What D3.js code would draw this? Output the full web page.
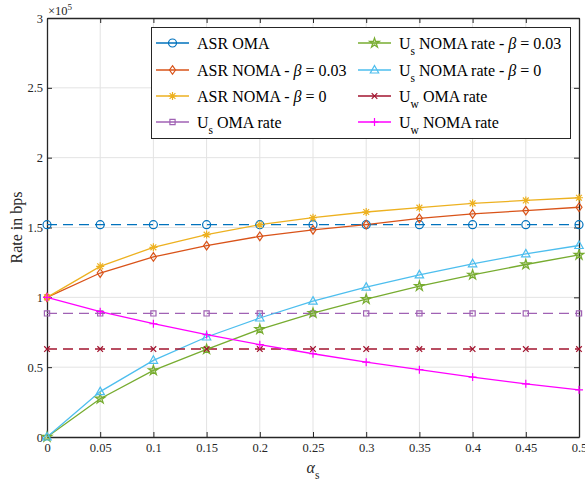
<!DOCTYPE html>
<html><head><meta charset="utf-8">
<script src="https://cdn.jsdelivr.net/npm/d3@7"></script>
<style>body{margin:0;background:#fff}svg{display:block}</style>
</head><body>
<svg id="chart" width="585" height="485"></svg>
<script>
const alphaS = [0, 0.05, 0.1, 0.15, 0.2, 0.25, 0.3, 0.35, 0.4, 0.45, 0.5];
const asrOMA = [152000, 152000, 152000, 152000, 152000, 152000, 152000, 152000, 152000, 152000, 152000];
const asrNOMA003 = [100000, 117400, 128900, 137000, 143700, 148300, 152100, 156600, 159700, 162100, 164500];
const asrNOMA0 = [100000, 122200, 135800, 144900, 152000, 157000, 161100, 164200, 167300, 169400, 171300];
const usOMA = [88500, 88500, 88500, 88500, 88500, 88500, 88500, 88500, 88500, 88500, 88500];
const usNOMA003 = [0, 27400, 47700, 62800, 77100, 88700, 98700, 108000, 116100, 123500, 130400];
const usNOMA0 = [0, 32500, 54900, 71600, 85200, 97300, 107300, 116100, 124000, 131100, 137100];
const uwOMA = [63000, 63000, 63000, 63000, 63000, 63000, 63000, 63000, 63000, 63000, 63000];
const uwNOMA = [100000, 89700, 81100, 73300, 66100, 59600, 53600, 48200, 42900, 38100, 33800];
const xTicks = [0, 0.05, 0.1, 0.15, 0.2, 0.25, 0.3, 0.35, 0.4, 0.45, 0.5];
const xTickLabels = ["0", "0.05", "0.1", "0.15", "0.2", "0.25", "0.3", "0.35", "0.4", "0.45", "0.5"];
const yTicks = [0, 50000, 100000, 150000, 200000, 250000, 300000];
const yTickLabels = ["0", "0.5", "1", "1.5", "2", "2.5", "3"];

const series = [
  {values: asrOMA, color: "#0072BD", dash: "10,6", marker: "circle", leg: [["ASR OMA"]]},
  {values: asrNOMA003, color: "#D95319", dash: null, marker: "diamond", leg: [["ASR NOMA - "], ["β", "it"], [" = 0.03"]]},
  {values: asrNOMA0, color: "#EDB120", dash: null, marker: "asterisk", leg: [["ASR NOMA - "], ["β", "it"], [" = 0"]]},
  {values: usOMA, color: "#A062B4", dash: "10,6", marker: "square", leg: [["U"], ["s", "sub"], [" OMA rate"]]},
  {values: usNOMA003, color: "#77AC30", dash: null, marker: "star", leg: [["U"], ["s", "sub"], [" NOMA rate - "], ["β", "it"], [" = 0.03"]]},
  {values: usNOMA0, color: "#4DBEEE", dash: null, marker: "triangle", leg: [["U"], ["s", "sub"], [" NOMA rate - "], ["β", "it"], [" = 0"]]},
  {values: uwOMA, color: "#A2142F", dash: "10,6", marker: "cross", leg: [["U"], ["w", "sub"], [" OMA rate"]]},
  {values: uwNOMA, color: "#FF00FF", dash: null, marker: "plus", leg: [["U"], ["w", "sub"], [" NOMA rate"]]}
];

const svg = d3.select("#chart");
const m = {left: 47, right: 579, top: 18, bottom: 437};
const x = d3.scaleLinear().domain([0, 0.5]).range([m.left, m.right]);
const y = d3.scaleLinear().domain([0, 300000]).range([m.bottom, m.top]);
const axisColor = "#262626";
const font = "'Liberation Serif', 'Times New Roman', serif";

// grid
const g = svg.append("g");
g.selectAll(".gx").data(xTicks.slice(1, -1)).enter().append("line")
  .attr("x1", d => x(d)).attr("x2", d => x(d)).attr("y1", m.top).attr("y2", m.bottom)
  .attr("stroke", "#e3e3e3").attr("stroke-width", 1);
g.selectAll(".gy").data(yTicks.slice(1, -1)).enter().append("line")
  .attr("y1", d => y(d)).attr("y2", d => y(d)).attr("x1", m.left).attr("x2", m.right)
  .attr("stroke", "#e3e3e3").attr("stroke-width", 1);

// axes
const xAxis = d3.axisBottom(x).tickValues(xTicks).tickFormat((d, i) => xTickLabels[i]).tickSizeInner(-5).tickSizeOuter(0).tickPadding(6);
const yAxis = d3.axisLeft(y).tickValues(yTicks).tickFormat((d, i) => yTickLabels[i]).tickSizeInner(-5).tickSizeOuter(0).tickPadding(4);
const xa = svg.append("g").attr("transform", `translate(0,${m.bottom})`).call(xAxis);
const ya = svg.append("g").attr("transform", `translate(${m.left},0)`).call(yAxis);
const xTop = svg.append("g").attr("transform", `translate(0,${m.top})`).call(d3.axisTop(x).tickValues(xTicks).tickFormat("").tickSizeInner(-5).tickSizeOuter(0));
const yRight = svg.append("g").attr("transform", `translate(${m.right},0)`).call(d3.axisRight(y).tickValues(yTicks).tickFormat("").tickSizeInner(-5).tickSizeOuter(0));
[xa, ya, xTop, yRight].forEach(a => {
  a.select(".domain").attr("stroke", axisColor).attr("stroke-width", 1.3);
  a.selectAll(".tick line").attr("stroke", axisColor).attr("stroke-width", 1);
  a.selectAll("text").attr("fill", axisColor).attr("font-family", font).attr("font-size", 12.5);
});

// markers
function markerPath(type) {
  switch (type) {
    case "circle": return d3.symbol(d3.symbolCircle, 50)();
    case "diamond": return "M0,-4.3L3,0L0,4.3L-3,0Z";
    case "square": return "M-2.6,-2.6H2.6V2.6H-2.6Z";
    case "triangle": return "M0,-4.5L4.2,3L-4.2,3Z";
    case "star": return d3.symbol(d3.symbolStar, 30)();
    case "asterisk": return "M-4,0H4M0,-4V4M-2.9,-2.9L2.9,2.9M-2.9,2.9L2.9,-2.9";
    case "cross": return "M-2.8,-2.8L2.8,2.8M-2.8,2.8L2.8,-2.8";
    case "plus": return "M-4,0H4M0,-4V4";
  }
}

const line = d3.line().x((d, i) => x(alphaS[i])).y(d => y(d));
const plot = svg.append("g");
series.forEach(s => {
  plot.append("path").datum(s.values).attr("d", line)
    .attr("fill", "none").attr("stroke", s.color).attr("stroke-width", 1.3)
    .attr("stroke-dasharray", s.dash);
});
series.forEach(s => {
  plot.selectAll(null).data(s.values).enter().append("path")
    .attr("transform", (d, i) => `translate(${x(alphaS[i])},${y(d)})`)
    .attr("d", markerPath(s.marker))
    .attr("fill", s.marker === "star" ? s.color : "none").attr("fill-opacity", s.marker === "star" ? 0.35 : 1)
    .attr("stroke", s.color).attr("stroke-width", 1.2);
});

// legend
const lg = svg.append("g");
lg.append("rect").attr("x", 151.5).attr("y", 27.5).attr("width", 419).attr("height", 111)
  .attr("fill", "#fff").attr("stroke", axisColor).attr("stroke-width", 1);
const colX = [156, 358];
const rowY = [43, 70, 96, 122];
series.forEach((s, i) => {
  const col = Math.floor(i / 4), row = i % 4;
  const lx = colX[col], ly = rowY[row];
  const item = lg.append("g");
  item.append("line").attr("x1", lx).attr("x2", lx + 33).attr("y1", ly).attr("y2", ly)
    .attr("stroke", s.color).attr("stroke-width", 1.3);
  item.append("path").attr("transform", `translate(${lx + 16.5},${ly})`).attr("d", markerPath(s.marker))
    .attr("fill", s.marker === "star" ? s.color : "none").attr("fill-opacity", s.marker === "star" ? 0.35 : 1)
    .attr("stroke", s.color).attr("stroke-width", 1.2);
  const t = item.append("text").attr("x", lx + 41).attr("y", ly + 6)
    .attr("font-family", font).attr("font-size", 16).attr("fill", "#000");
  let shifted = false;
  s.leg.forEach(p => {
    const ts = t.append("tspan").text(p[0]);
    if (p[1] === "sub") { ts.attr("dy", 6).attr("font-size", 11.5); shifted = true; }
    else if (shifted) { ts.attr("dy", -6); shifted = false; }
    if (p[1] === "it") ts.attr("font-style", "italic");
  });
});

// axis labels
svg.append("text").attr("transform", `translate(22,${(m.top + m.bottom) / 2}) rotate(-90)`)
  .attr("text-anchor", "middle").attr("font-family", font).attr("font-size", 16).attr("fill", axisColor)
  .text("Rate in bps");
const xl = svg.append("text").attr("x", (m.left + m.right) / 2).attr("y", 473)
  .attr("text-anchor", "middle").attr("font-family", font).attr("font-size", 16).attr("fill", axisColor);
xl.append("tspan").attr("font-style", "italic").text("α");
xl.append("tspan").attr("dy", 6).attr("font-size", 11.5).text("s");
const ex = svg.append("text").attr("x", 48).attr("y", 15).attr("font-family", font).attr("font-size", 12.5).attr("fill", axisColor);
ex.append("tspan").text("×10");
ex.append("tspan").attr("dy", -5).attr("font-size", 9).text("5");
</script>
</body></html>
